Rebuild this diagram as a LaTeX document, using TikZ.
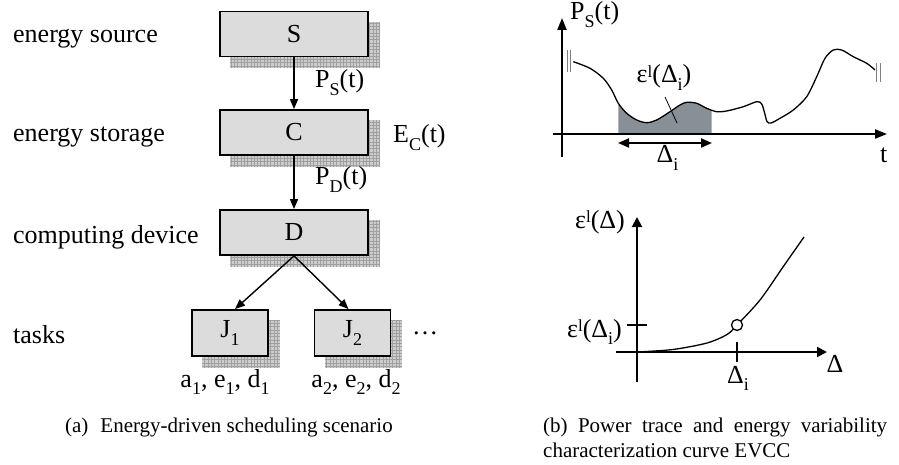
\documentclass[tikz,border=0pt]{standalone}
\usepackage{fontspec}
\setmainfont{Liberation Serif}
\usetikzlibrary{arrows.meta,backgrounds}
\definecolor{boxfill}{RGB}{220,220,220}
\definecolor{shfill}{RGB}{205,205,205}
\definecolor{shgrid}{RGB}{160,160,160}
\definecolor{areafill}{RGB}{136,144,151}
\newcommand\mylabfont{\fontsize{26}{30}\selectfont}
\newcommand\mycapfont{\fontsize{21}{25}\selectfont}
\newcommand\mysub[1]{\raisebox{-0.3em}{\fontsize{18}{20}\selectfont #1}}
\newcommand\mysup[1]{\raisebox{0.22em}{\fontsize{17}{20}\selectfont #1}}
\begin{document}
\begin{tikzpicture}[x=1pt,y=-1pt,
  bx/.style={draw, line width=1.8pt, fill=boxfill, inner sep=0pt, font=\mylabfont},
  bigbox/.style={bx, minimum width=148pt, minimum height=45pt},
  smallbox/.style={bx, minimum width=76pt, minimum height=46pt},
  lbl/.style={inner sep=0pt, font=\mylabfont},
  flow/.style={line width=1.4pt, -{Triangle[length=10pt,width=8pt]}},
  axisline/.style={line width=2pt, -{Triangle[length=12pt,width=9pt]}},
  curveline/.style={line width=1.3pt},
  captxt/.style={inner sep=0pt, font=\mycapfont, anchor=base west}]
\useasboundingbox (0,0) rectangle (899,465);

% ---------- (a) scenario ----------
\node[bigbox] (S) at (294,34) {S};
\node[bigbox] (C) at (294,132.5) {C};
\node[bigbox] (D) at (294,232.5) {D};
\node[smallbox] (J1) at (230,333) {J\mysub{1}};
\node[smallbox] (J2) at (352.5,333) {J\mysub{2}};

\begin{scope}[on background layer]
  \foreach \n in {S,C,D,J1,J2}{
    \fill[shfill] ([shift={(11,11)}]\n.north west) rectangle ([shift={(11,11)}]\n.south east);
    \draw[shgrid, line width=0.45pt, step=3.3pt] ([shift={(11,11)}]\n.north west) grid ([shift={(11,11)}]\n.south east);
  }
\end{scope}

\draw[flow] (S.south) -- (C.north);
\draw[flow] (C.south) -- (D.north);
\draw[flow] (D.south) -- ([xshift=5pt]J1.north);
\draw[flow] (D.south) -- ([xshift=-4pt]J2.north);

\node[lbl, anchor=base west] (ls) at (13,43) {energy source};
\node[lbl, anchor=base west] (lc) at (13,142) {energy storage};
\node[lbl, anchor=base west] (ld) at (13,243) {computing device};
\node[lbl, anchor=base west] (lt) at (13,343) {tasks};

\node[lbl, anchor=base west] (ps) at (315,88) {P\mysub{S}(t)};
\node[lbl, anchor=base west] (pd) at (315,185) {P\mysub{D}(t)};
\node[lbl, anchor=base west] (ec) at (393,143) {E\mysub{C}(t)};
\node[lbl, anchor=base west] (dots) at (412,334) {…};
\node[lbl, anchor=base] (t1) at (225,387) {a\mysub{1}, e\mysub{1}, d\mysub{1}};
\node[lbl, anchor=base] (t2) at (356,387) {a\mysub{2}, e\mysub{2}, d\mysub{2}};

\node[captxt, anchor=base east] (capa) at (393,432) {(a)\hspace{12pt}Energy-driven scheduling scenario};

% ---------- (b) top: power trace ----------
\def\trace{(573.3,61.7) (590,68.3) (603.3,78.3) (611.7,90) (618.3,103.3) (626.7,113.3) (636.7,120) (646.7,122.7) (656.7,120) (670,111.7) (680,105) (686.7,102.3) (696.7,103.3) (706.7,108.3) (716.7,111.7) (726.7,111) (743.3,106.7) (756.7,101.7) (761.7,104) (764.7,113.3) (767,121.5) (771,123) (780,118.3) (793.3,110) (806.7,96.7) (816.7,76.7) (825,58.3) (833.3,50) (841.7,50) (853.3,56.7) (866.7,63.3) (875,70)}
\begin{scope}
  \clip (618.3,0) rectangle (711.7,134);
  \fill[areafill] plot[smooth, tension=0.5] coordinates {\trace} -- (875,134) -- (573.3,134) -- cycle;
\end{scope}
\draw[curveline] plot[smooth, tension=0.5] coordinates {\trace};

\coordinate (yb) at (562,157);
\coordinate (yt) at (562,18);
\coordinate (xl) at (553,134);
\coordinate (xr) at (887,134);
\draw[axisline] (yb) -- (yt);
\draw[axisline] (xl) -- (xr);

\draw[gray, line width=0.9pt] (567.3,50) -- (567.3,72) (570.7,50) -- (570.7,72);
\draw[gray, line width=0.9pt] (876.7,63) -- (876.7,82) (880.7,63) -- (880.7,82);

\coordinate (la) at (665,97);
\coordinate (lb) at (677,123);
\draw[line width=0.8pt] (la) -- (lb);

\coordinate (da) at (618,143);
\coordinate (db) at (712,143);
\draw[line width=2pt, {Triangle[length=11pt,width=9pt]}-{Triangle[length=11pt,width=9pt]}] (da) -- (db);

\node[lbl, anchor=base west] (pst) at (570,20) {P\mysub{S}(t)};
\node[lbl, anchor=base west] (tl) at (880,163) {t};
\node[lbl, anchor=base west] (dil) at (656.5,163) {Δ\mysub{i}};
\node[lbl, anchor=base west] (epl) at (636.5,83) {ε\mysup{l}(Δ\mysub{i})};

% ---------- (b) bottom: EVCC ----------
\coordinate (eyb) at (637,382);
\coordinate (eyt) at (637,217);
\coordinate (exl) at (616,352);
\coordinate (exr) at (827,352);
\draw[line width=2pt, -{Triangle[length=10pt,width=10pt]}] (eyb) -- (eyt);
\draw[line width=2pt, -{Triangle[length=10pt,width=10pt]}] (exl) -- (exr);
\coordinate (tya) at (627,325);
\coordinate (tyb) at (647,325);
\draw[line width=1.6pt] (tya) -- (tyb);
\coordinate (txa) at (737,342);
\coordinate (txb) at (737,362);
\draw[line width=1.6pt] (txa) -- (txb);
\draw[curveline] plot[smooth, tension=0.5] coordinates {(637,352) (673,349.5) (707,343) (727,334.5) (737,325) (760,300) (783,267) (804,237)};
\node[circle, draw, fill=white, line width=1.3pt, minimum size=11pt, inner sep=0pt] (pt) at (737,325) {};

\node[lbl, anchor=base east] (e1) at (625,228) {ε\mysup{l}(Δ)};
\node[lbl, anchor=base east] (e2) at (622,337) {ε\mysup{l}(Δ\mysub{i})};
\node[lbl, anchor=base] (dl) at (835,372) {Δ};
\node[lbl, anchor=base] (dil2) at (738,383) {Δ\mysub{i}};

\node[captxt] (capb1) at (543,432) {\makebox[344pt][s]{(b) Power trace and energy variability}};
\node[captxt] (capb2) at (543,457) {characterization curve EVCC};
\end{tikzpicture}
\end{document}
